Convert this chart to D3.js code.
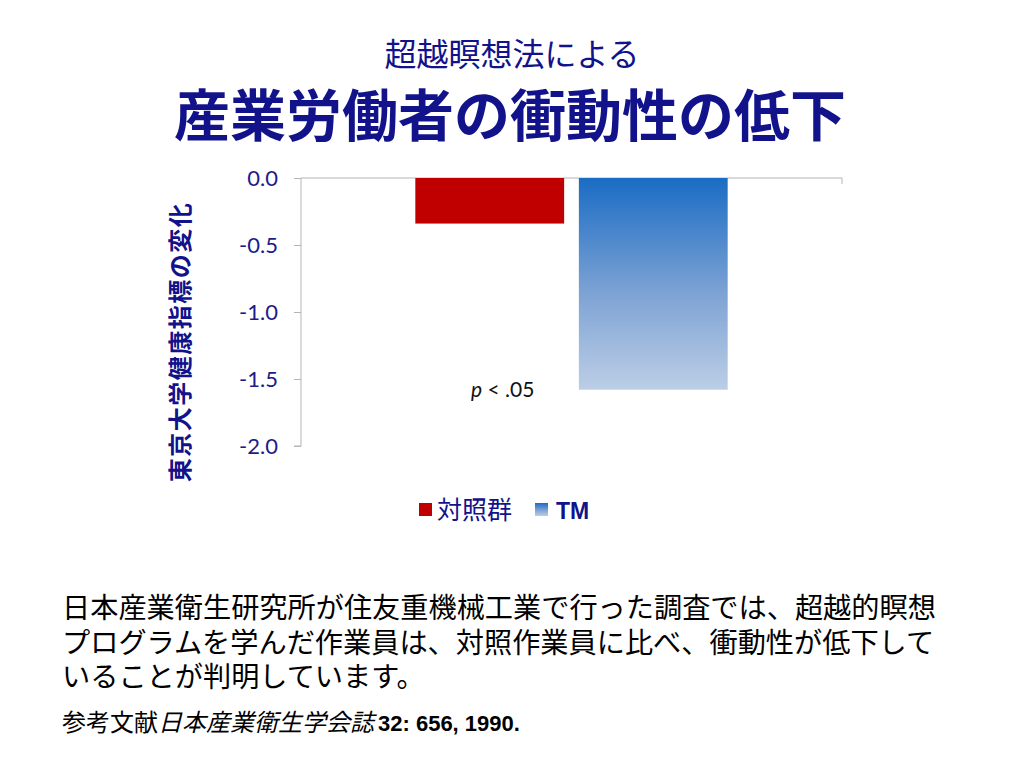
<!DOCTYPE html>
<head>
	<meta charset="utf-8">
	<style>
		body {
			margin: 0;
			background: white;
		}

		svg {
			font-family: "Noto Sans CJK JP", sans-serif;
		}

		svg .tick text {
			font: 22px Lato, "Open Sans", sans-serif;
			fill: #1c1c8a;
		}

		svg .domain, svg .tick line {
			stroke: #b5b5b5;
		}
	</style>
</head>

<body>
	<svg width="1024" height="768"></svg>
	<script src="https://d3js.org/d3.v7.min.js"></script>
	<script>

		var series = ["対照群", "TM"];
		var groups = ["産業労働者"];
		var values = [-0.34, -1.58];
		var yTicks = [0.0, -0.5, -1.0, -1.5, -2.0];

		var navy = "#12128a";

		var svg = d3.select("svg"),
			margin = { top: 178, right: 182, bottom: 322, left: 301 },
			width = 1024 - margin.left - margin.right,
			height = 768 - margin.top - margin.bottom,
			g = svg.append("g").attr("transform", "translate(" + margin.left + "," + margin.top + ")");

		// blue gradient for the TM bar
		var defs = svg.append("defs");
		var grad = defs.append("linearGradient")
			.attr("id", "tmGrad")
			.attr("x1", 0).attr("y1", 0).attr("x2", 0).attr("y2", 1);
		grad.append("stop").attr("offset", "0%").attr("stop-color", "#1a6cc4");
		grad.append("stop").attr("offset", "55%").attr("stop-color", "#7ea3d4");
		grad.append("stop").attr("offset", "100%").attr("stop-color", "#bccee6");

		var fills = ["#c00000", "url(#tmGrad)"];

		var x0 = d3.scaleBand()
			.domain(groups)
			.range([0, width])
			.paddingOuter(0.366);

		var x1 = d3.scaleBand()
			.domain(series)
			.range([0, x0.bandwidth()])
			.paddingInner(0.09);

		var y = d3.scaleLinear()
			.domain([0, -2])
			.range([0, height]);

		// Axes
		g.append("g")
			.call(d3.axisLeft(y).tickValues(yTicks).tickSize(7).tickPadding(16)
				.tickFormat(function (d) { return d.toFixed(1); }))
			.call(function (a) { a.select(".domain").attr("d", "M-7," + height + "H0V0"); });

		g.append("path")
			.attr("fill", "none")
			.attr("stroke", "#b5b5b5")
			.attr("d", "M0,0H" + width + "V6");

		// Bars
		g.selectAll("rect.bar")
			.data(values)
			.enter().append("rect")
			.attr("class", "bar")
			.attr("x", function (d, i) { return x0(groups[0]) + x1(series[i]); })
			.attr("y", y(0))
			.attr("width", x1.bandwidth())
			.attr("height", function (d) { return y(d) - y(0); })
			.attr("fill", function (d, i) { return fills[i]; });

		// significance note
		var note = g.append("text")
			.attr("x", x0(groups[0]) + x1(series[0]) + x1.bandwidth() / 2 + 13)
			.attr("y", y(values[1]) + 7)
			.attr("text-anchor", "middle")
			.style("font", "21px Lato, 'Open Sans', sans-serif")
			.attr("fill", "#111");
		note.append("tspan").style("font-style", "italic").text("p");
		note.append("tspan").text(" <  .05");

		// Y label
		svg.append("text")
			.attr("transform", "translate(189,342) rotate(-90)")
			.attr("text-anchor", "middle")
			.attr("font-size", 24)
			.attr("font-weight", "bold")
			.attr("letter-spacing", 1.5)
			.attr("fill", navy)
			.text("東京大学健康指標の変化");

		// Titles
		svg.append("text")
			.attr("x", 512).attr("y", 66)
			.attr("text-anchor", "middle")
			.attr("font-size", 32)
			.attr("fill", navy)
			.text("超越瞑想法による");

		svg.append("text")
			.attr("x", 510).attr("y", 136)
			.attr("text-anchor", "middle")
			.attr("font-size", 56)
			.attr("font-weight", "bold")
			.attr("fill", navy)
			.text("産業労働者の衝動性の低下");

		// Legend
		var legX = [419, 535];
		var leg = svg.selectAll("g.leg")
			.data(series)
			.enter().append("g")
			.attr("class", "leg")
			.attr("transform", function (d, i) { return "translate(" + legX[i] + ",503)"; });
		leg.append("rect")
			.attr("width", 13).attr("height", 13)
			.attr("fill", function (d, i) { return fills[i]; });
		leg.append("text")
			.attr("x", function (d, i) { return i == 0 ? 18 : 21; })
			.attr("y", 16)
			.attr("font-size", function (d, i) { return i == 0 ? 25 : 23; })
			.attr("font-weight", function (d, i) { return i == 0 ? "normal" : "bold"; })
			.style("font-family", function (d, i) { return i == 0 ? "'Noto Sans CJK JP'" : "'Liberation Sans', Arial"; })
			.attr("fill", navy)
			.text(String);

		// Body text
		var lines = [
			"日本産業衛生研究所が住友重機械工業で行った調査では、超越的瞑想",
			"プログラムを学んだ作業員は、対照作業員に比べ、衝動性が低下して",
			"いることが判明しています。"
		];
		svg.selectAll("text.body")
			.data(lines)
			.enter().append("text")
			.attr("class", "body")
			.attr("x", 62)
			.attr("y", function (d, i) { return 618 + i * 34.5; })
			.attr("font-size", 28.2)
			.attr("fill", "#000")
			.text(String);

		var ref = svg.append("text")
			.attr("x", 62).attr("y", 731)
			.attr("font-size", 24)
			.attr("fill", "#000");
		ref.append("tspan").text("参考文献");
		ref.append("tspan").style("font-style", "italic").text("日本産業衛生学会誌");
		ref.append("tspan").attr("dx", 4).attr("font-weight", "bold")
			.style("font-family", "'Liberation Sans', Arial").attr("font-size", 22).text("32: 656, 1990.");

	</script>
</body>
